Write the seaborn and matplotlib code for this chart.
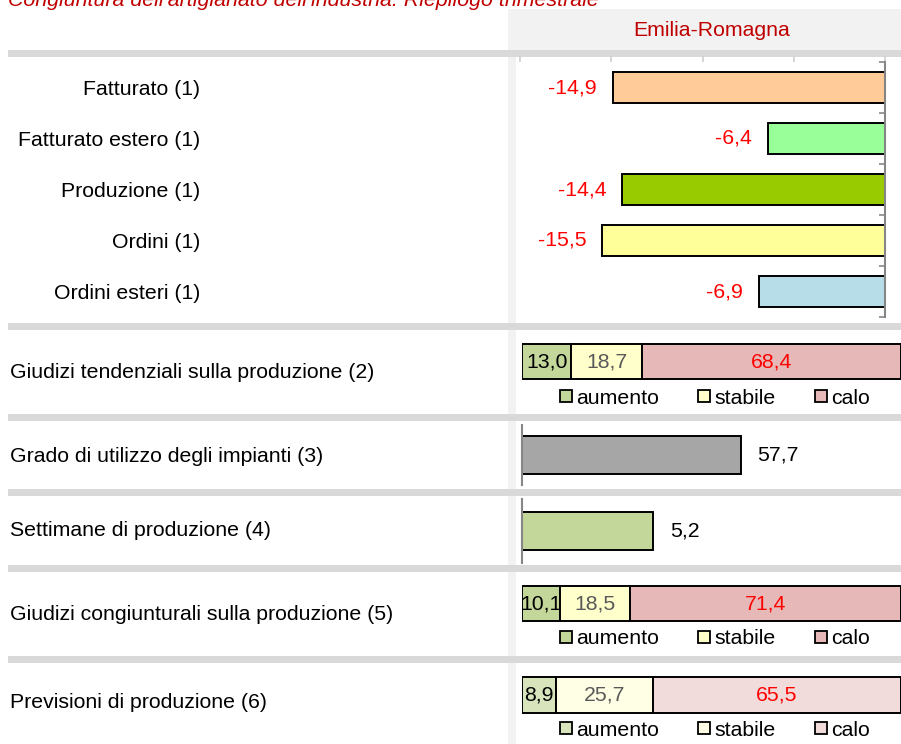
import numpy as np
import pandas as pd
import seaborn as sns
import matplotlib.pyplot as plt
import matplotlib.patches as mpatches

# dati
titolo = "Congiuntura dell'artigianato dell'industria. Riepilogo trimestrale"
regione = "Emilia-Romagna"

voci = ["Fatturato (1)", "Fatturato estero (1)", "Produzione (1)", "Ordini (1)", "Ordini esteri (1)"]
variazioni = [-14.9, -6.4, -14.4, -15.5, -6.9]
colori_voci = ["#ffcc99", "#99ff99", "#99cc00", "#ffff99", "#b7dee8"]

giudizi = ["aumento", "stabile", "calo"]
tendenziali = [13.0, 18.7, 68.4]
congiunturali = [10.1, 18.5, 71.4]
previsioni = [8.9, 25.7, 65.5]
colori_giudizi = ["#c4d79b", "#ffffcc", "#e6b8b7"]
colori_previsioni = ["#d8e4bc", "#ffffe5", "#f2dcdb"]
colori_testo = ["black", "#595959", "red"]

utilizzo_impianti = [57.7]
settimane_produzione = [5.2]

righe = ["Giudizi tendenziali sulla produzione (2)",
         "Grado di utilizzo degli impianti (3)",
         "Settimane di produzione (4)",
         "Giudizi congiunturali sulla produzione (5)",
         "Previsioni di produzione (6)"]

sns.set_theme(style="white")
plt.rcParams['font.family'] = ['Liberation Sans', 'DejaVu Sans']
plt.rcParams['text.color'] = 'black'
plt.rcParams['ytick.color'] = 'black'
plt.rcParams['xtick.color'] = 'black'

W, H = 901, 744
FS = 15.3
fig = plt.figure(figsize=(W / 100, H / 100), dpi=100)


def box(x0, y0, x1, y1):
    # pixel (dall'alto) -> frazione di figura
    return [x0 / W, 1 - y1 / H, (x1 - x0) / W, (y1 - y0) / H]


def rect(x0, y0, x1, y1, color):
    fig.add_artist(mpatches.Rectangle((x0 / W, 1 - y1 / H), (x1 - x0) / W, (y1 - y0) / H,
                                      transform=fig.transFigure, facecolor=color,
                                      linewidth=0, zorder=-1))


def fmt(v):
    return f"{v:.1f}".replace(".", ",")


# sfondo: intestazione, colonna grigia, separatori
rect(508, 9, 901, 50, "#f2f2f2")
rect(508, 50, 516, 744, "#f2f2f2")
for y in [50, 323, 414, 489, 565, 656]:
    rect(8, y, 901, y + 7, "#d9d9d9")

fig.text(8 / W, 1 - 6 / H, titolo, ha="left", va="baseline", fontsize=15.4,
         style="italic", color="#c00000")
fig.text(712 / W, 1 - 30 / H, regione, ha="center", va="center", fontsize=FS, color="#c00000")

# pannello 1: variazioni
ax1 = fig.add_axes(box(520, 62, 885, 317))
ax1.patch.set_alpha(0)
df1 = pd.DataFrame({"voce": voci, "var": variazioni})
sns.barplot(data=df1, x="var", y="voce", hue="voce", palette=colori_voci, saturation=1,
            width=0.59, edgecolor="black", linewidth=1.4, legend=False, ax=ax1)
for cont, v in zip(ax1.containers, variazioni):
    ax1.bar_label(cont, labels=[fmt(v)], padding=11.5, color="red", fontsize=FS)
ax1.set_xlim(-20, 0)
ax1.set_ylim(4.5, -0.5)
ax1.set_xlabel("")
ax1.set_ylabel("")
for s in ["left", "bottom", "top"]:
    ax1.spines[s].set_visible(False)
ax1.spines["right"].set_color("#868686")
ax1.spines["right"].set_linewidth(1.5)
ax1.set_yticks(np.arange(-0.5, 5, 1), minor=True)
ax1.tick_params(axis="y", which="minor", right=True, left=False, direction="in",
                length=4, width=1.2, color="#868686")
ax1.tick_params(axis="y", which="major", left=False, right=False, pad=224, labelsize=FS)
ax1.xaxis.tick_top()
ax1.set_xticks([-20, -15, -10, -5, 0])
ax1.set_xticklabels([])
ax1.tick_params(axis="x", top=True, bottom=False, direction="out", length=4, color="#d0d0d0")


def barre_impilate(y0, y1, valori, colori, leg_y):
    ax = fig.add_axes(box(522, y0 - 8, 901, y1 + 8))
    ax.patch.set_alpha(0)
    inizio = 0
    for i, (v, c, tc) in enumerate(zip(valori, colori, colori_testo)):
        sns.barplot(x=[v], y=[0], orient="h", left=inizio, color=c, saturation=1,
                    edgecolor="black", linewidth=1.4, width=(y1 - y0) / (y1 - y0 + 16),
                    zorder=2 + 2 * i, ax=ax)
        ax.bar_label(ax.containers[-1], labels=[fmt(v)], label_type="center",
                     color=tc, fontsize=FS, zorder=3 + 2 * i)
        inizio += v
    ax.set_xlim(0, 100)
    ax.set_ylim(0.5, -0.5)
    ax.set_xticks([])
    ax.set_yticks([])
    ax.set_xlabel("")
    ax.set_ylabel("")
    sns.despine(ax=ax, left=True, bottom=True)
    handles = [mpatches.Patch(facecolor=c, edgecolor="black", linewidth=1.3) for c in colori]
    ax.legend(handles, giudizi, ncol=3, loc="center", bbox_to_anchor=(715 / W, 1 - leg_y / H),
              bbox_transform=fig.transFigure, frameon=False, fontsize=FS,
              handlelength=0.55, handleheight=0.55, handletextpad=0.2,
              columnspacing=1.85, borderpad=0, borderaxespad=0)
    return ax


def barra_singola(y0, y1, valori, colore, xmax, bar_h):
    ax = fig.add_axes(box(522, y0, 901, y1))
    ax.patch.set_alpha(0)
    sns.barplot(x=valori, y=[0], orient="h", color=colore, saturation=1, edgecolor="black",
                linewidth=1.4, width=bar_h, ax=ax)
    ax.bar_label(ax.containers[0], labels=[fmt(v) for v in valori], padding=12,
                 color="black", fontsize=FS)
    ax.set_xlim(0, xmax)
    ax.set_ylim(0.5, -0.5)
    ax.set_xticks([])
    ax.set_yticks([])
    ax.set_xlabel("")
    ax.set_ylabel("")
    for s in ["right", "bottom", "top"]:
        ax.spines[s].set_visible(False)
    ax.spines["left"].set_color("#868686")
    ax.spines["left"].set_linewidth(1.5)
    return ax


barre_impilate(344, 379, tendenziali, colori_giudizi, 398)
barra_singola(425, 485, utilizzo_impianti, "#a6a6a6", 100, 0.62)
barra_singola(499, 563, settimane_produzione, "#c4d79b", 15, 0.58)
barre_impilate(586, 621, congiunturali, colori_giudizi, 639)
barre_impilate(677, 713, previsioni, colori_previsioni, 730)

for testo, yc in zip(righe, [373, 457, 531, 614, 703]):
    fig.text(10 / W, 1 - yc / H, testo, ha="left", va="center", fontsize=FS)

fig.savefig("out.png", dpi=100)
